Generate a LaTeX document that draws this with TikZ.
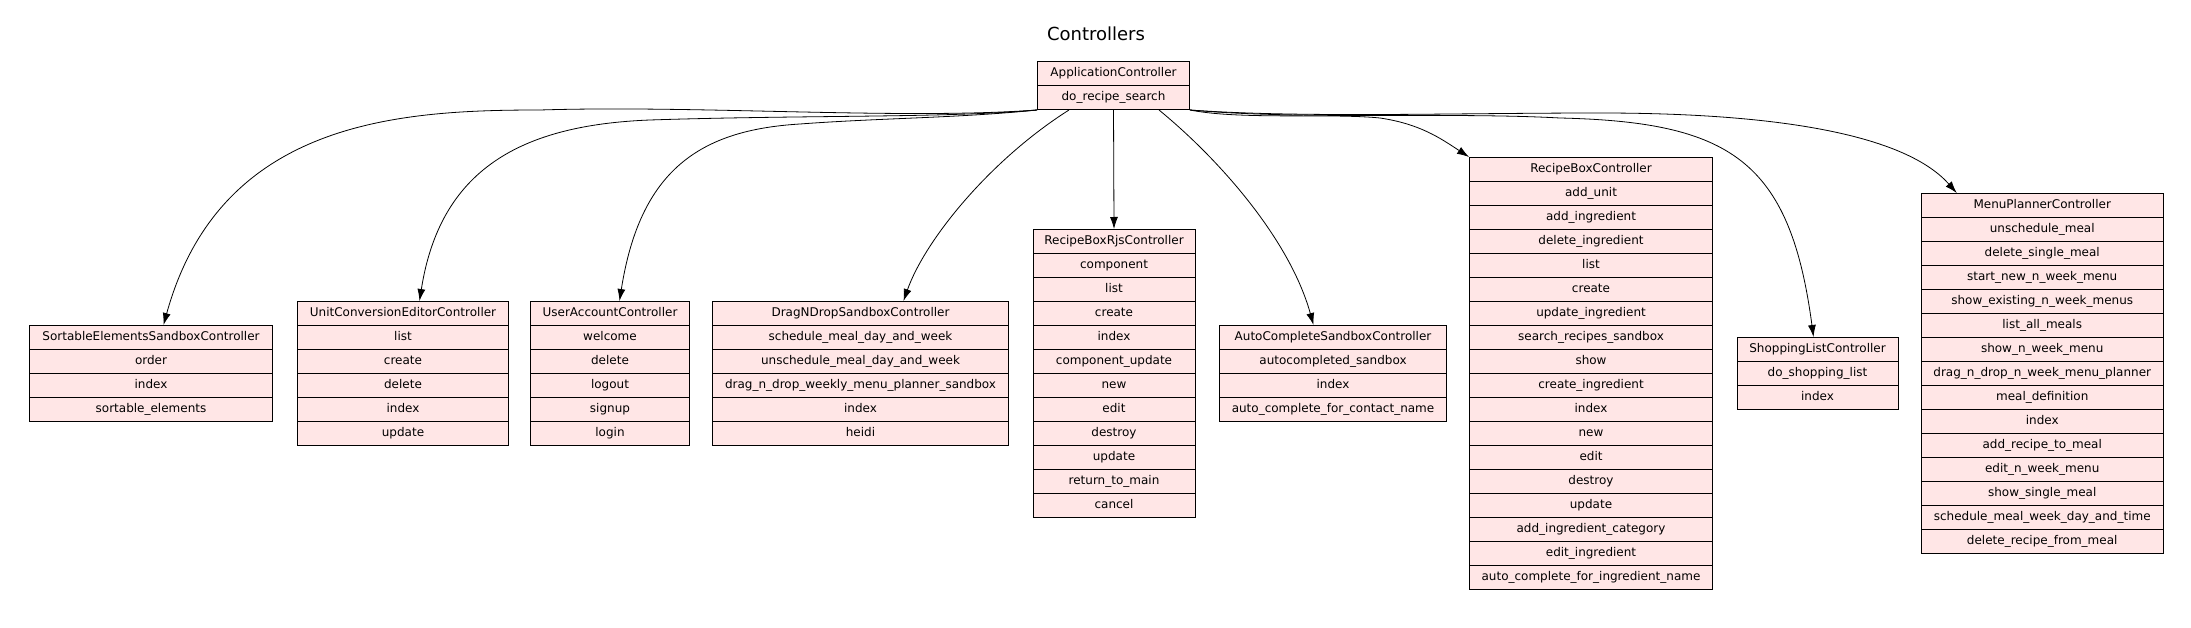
\documentclass[tikz,border=0pt]{standalone}
\usepackage{fontspec}
\setmainfont{DejaVu Sans}
\usetikzlibrary{arrows.meta,positioning}
\definecolor{rowpink}{RGB}{255,230,230}
\tikzset{
	row/.style={draw, fill=rowpink, line width=1pt, anchor=north west, inner sep=0pt,
		minimum height=24pt, text height=8.6pt, text depth=2.6pt, font=\fontsize{12}{14}\selectfont},
	link/.style={-{Latex[length=12pt,width=8pt]}, line width=0.8pt}
}
% #1 name, #2 left, #3 top, #4 width, #5 class, #6 actions
\def\ctrlbox#1#2#3#4#5#6{%
	\node[row, minimum width=#4pt] (#1) at (#2,#3) {#5};
	\foreach \m [count=\i] in {#6}
		\node[row, minimum width=#4pt] (#1-\i) at (#2,{#3+24*\i}) {\m};
}

\begin{document}
\begin{tikzpicture}[x=1pt,y=-1pt]
		%%%%% START %%%%%
		\useasboundingbox (0,0) rectangle (2191,628);
		
		\node[anchor=base, font=\fontsize{18}{20}\selectfont] (title) at (1096,41) {Controllers};
		
		\ctrlbox{app}{1037}{61}{152}{ApplicationController}{do\_recipe\_search}
		
		\ctrlbox{sortable}{29}{325}{243}{SortableElementsSandboxController}{order, index, sortable\_elements}
		\ctrlbox{unitconv}{297}{301}{211}{UnitConversionEditorController}{list, create, delete, index, update}
		\ctrlbox{useracct}{530}{301}{159}{UserAccountController}{welcome, delete, logout, signup, login}
		\ctrlbox{dragdrop}{712}{301}{296}{DragNDropSandboxController}{schedule\_meal\_day\_and\_week, unschedule\_meal\_day\_and\_week, drag\_n\_drop\_weekly\_menu\_planner\_sandbox, index, heidi}
		\ctrlbox{rjs}{1032.5}{229}{162}{RecipeBoxRjsController}{component, list, create, index, component\_update, new, edit, destroy, update, return\_to\_main, cancel}
		\ctrlbox{autocomp}{1219}{325}{227}{AutoCompleteSandboxController}{autocompleted\_sandbox, index, auto\_complete\_for\_contact\_name}
		\ctrlbox{recipebox}{1469}{157}{243}{RecipeBoxController}{add\_unit, add\_ingredient, delete\_ingredient, list, create, update\_ingredient, search\_recipes\_sandbox, show, create\_ingredient, index, new, edit, destroy, update, add\_ingredient\_category, edit\_ingredient, auto\_complete\_for\_ingredient\_name}
		\ctrlbox{shopping}{1736.5}{337}{161}{ShoppingListController}{do\_shopping\_list, index}
		\ctrlbox{menuplan}{1920.7}{193}{242}{MenuPlannerController}{unschedule\_meal, delete\_single\_meal, start\_new\_n\_week\_menu, show\_existing\_n\_week\_menus, list\_all\_meals, show\_n\_week\_menu, drag\_n\_drop\_n\_week\_menu\_planner, meal\_definition, index, add\_recipe\_to\_meal, edit\_n\_week\_menu, show\_single\_meal, schedule\_meal\_week\_day\_and\_time, delete\_recipe\_from\_meal}
		
		% left hand links
		\draw[link] (app-1.south west) .. controls (900,120) and (700,105) .. (540,110)
			.. controls (400,110) and (220,120) .. ([xshift=12.5pt]sortable.north);
		\draw[link] (app-1.south west) .. controls (950,118) and (800,115) .. (650,120)
			.. controls (520,125) and (440,170) .. ([xshift=16.5pt]unitconv.north);
		\draw[link] (app-1.south west) .. controls (960,118) and (880,118) .. (800,124)
			.. controls (700,130) and (640,170) .. ([xshift=9.5pt]useracct.north);
		\draw[link] ([xshift=32pt]app-1.south west) .. controls (990,160) and (925,240) .. ([xshift=43pt]dragdrop.north);
		
		% middle links
		\draw[link] (app-1.south) -- (rjs.north);
		\draw[link] ([xshift=-31pt]app-1.south east) .. controls (1220,160) and (1290,240) .. ([xshift=-19.5pt]autocomp.north);
		
		% right hand links
		\draw[link] (app-1.south east) .. controls (1240,120) and (1330,113) .. (1380,118)
			.. controls (1420,124) and (1440,138) .. (recipebox.north west);
		\draw[link] (app-1.south east) .. controls (1300,120) and (1450,112) .. (1560,118)
			.. controls (1730,122) and (1790,160) .. ([xshift=-4pt]shopping.north);
		\draw[link] (app-1.south east) .. controls (1300,118) and (1450,113) .. (1600,113)
			.. controls (1800,113) and (1910,140) .. ([xshift=36pt]menuplan.north west);
		
		%%%%% END %%%%%
	\end{tikzpicture}
\end{document}
